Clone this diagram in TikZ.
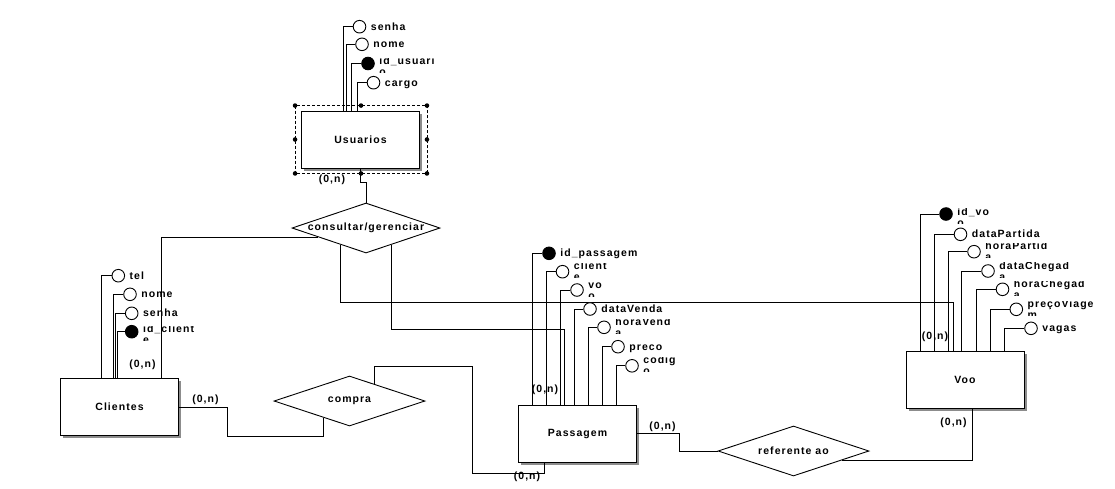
\documentclass[tikz,border=0pt]{standalone}
\usepackage{fontspec}
\setmainfont{Liberation Sans}[LetterSpace=10]
\usetikzlibrary{shapes.geometric,calc,shadows}

\newcommand\erfont{\fontsize{10.5}{12}\selectfont\bfseries}

\tikzset{
  lbl/.style={font=\erfont, inner sep=0pt},
  entity/.style={draw, fill=white, font=\erfont, minimum width=118pt, minimum height=57pt, inner sep=0pt,
    drop shadow={shadow xshift=2.5pt, shadow yshift=-2.5pt, opacity=1, fill=black!45}},
  relation/.style={draw, diamond, fill=white, inner sep=0pt},
  attr/.style={draw, circle, fill=white, minimum size=12.6pt, inner sep=0pt},
  keyattr/.style={draw, circle, fill=black, minimum size=12.6pt, inner sep=0pt},
  handle/.style={circle, fill=black, minimum size=4.6pt, inner sep=0pt},
  selbox/.style={line width=0.7pt, dash pattern=on 3pt off 2pt},
}

% attribute circle with its elbow line down to the entity top
\newcommand\attrib[5]{%
  \node[#2] (#1) at (#3) {};
  \draw (#1.west) -| (#4.north -| #5,0);}
% one-line attribute name
\newcommand\slabel[3]{%
  \node[lbl, anchor=base west] (#2) at ($(#1.east)+(4.2,3.5)$) {#3};}
% attribute name wrapped on two lines, shown through a narrow band
\newcommand\wlabel[5]{%
  \begin{scope}
    \coordinate (#2-b) at ($(#1.east)+(4.2,#3)$);
    \clip ($(#2-b)+(-1,-6.2)$) rectangle ($(#2-b)+(80,8)$);
    \node[lbl, anchor=base west] (#2) at (#2-b) {#4};
    \node[lbl, anchor=base west] (#2-2) at ($(#2-b)+(0,11)$) {#5};
  \end{scope}}

\begin{document}
\begin{tikzpicture}[x=1pt, y=-1pt, line width=0.9pt]
\fill[white] (0,0) rectangle (1115,488);
\useasboundingbox (0,0) rectangle (1115,488);

% entities
\node[entity] (usu) at (360.5,139.5) {Usuarios};
\node[entity] (cli) at (119.5,407) {Clientes};
\node[entity] (pas) at (577.5,433.5) {Passagem};
\node[entity] (voo) at (965,380) {Voo};

% relationships
\node[relation, minimum width=148pt, minimum height=50pt] (cg) at (366,228) {};
\node[lbl] (cg-t) at (cg) {consultar/gerenciar};
\node[relation, minimum width=151pt, minimum height=50pt] (cp) at (349.5,401) {};
\node[lbl] (cp-t) at (cp) {compra};
\node[relation, minimum width=151pt, minimum height=50pt] (ref) at (793.5,451) {};
\node[lbl] (ref-t) at (ref) {referente ao};

% selection frame around Usuarios
\coordinate (sel-nw) at ($(usu.north west)+(-6,-5)$);
\coordinate (sel-se) at ($(usu.south east)+(7,5)$);
\coordinate (sel-c) at ($(sel-nw)!0.5!(sel-se)$);
\draw[selbox] (sel-nw) rectangle (sel-se);
\foreach \p [count=\i] in {sel-nw, sel-nw -| sel-c, sel-nw -| sel-se, sel-c -| sel-nw,
    sel-c -| sel-se, sel-se -| sel-nw, sel-se -| sel-c, sel-se}
  \node[handle] (h\i) at (\p) {};

% relationship lines
\draw (usu.south) |- (366,182) -- (cg.north);
\draw (cli.north -| 161,0) |- ($(cg.west)!0.36!(cg.south)$);
\draw ($(cg.west)!0.662!(cg.south)$) |- (953,302) -- (voo.north -| 953,0);
\draw ($(cg.south)!0.338!(cg.east)$) |- (564,329) -- (pas.north -| 564,0);
\draw (cli.east) -| (227,436) -| ($(cp.west)!0.662!(cp.south)$);
\draw ($(cp.north)!0.324!(cp.east)$) |- (472,366) -- (472,473) -| (pas.south -| 544,0);
\draw (pas.east) -| (679,451) -- (ref.west);
\draw ($(ref.south)!0.64!(ref.east)$) -| (voo.south -| 972,0);

% cardinalities
\node[lbl] (k1) at (332,180) {(0,n)};
\node[lbl] (k2) at (142.5,365) {(0,n)};
\node[lbl] (k3) at (205.5,400) {(0,n)};
\node[lbl] (k4) at (545,390) {(0,n)};
\node[lbl] (k5) at (527,477) {(0,n)};
\node[lbl] (k6) at (662.5,427) {(0,n)};
\node[lbl] (k7) at (935,337) {(0,n)};
\node[lbl] (k8) at (953.5,423) {(0,n)};

% Usuarios attributes
\attrib{u1}{attr}{359.5,26.7}{usu}{343.3}
\attrib{u2}{attr}{362,44.3}{usu}{346.7}
\attrib{u3}{keyattr}{368,63.5}{usu}{351.7}
\attrib{u4}{attr}{373.5,82.7}{usu}{357.7}
\slabel{u1}{u1-l}{senha}
\slabel{u2}{u2-l}{nome}
\wlabel{u3}{u3-l}{1}{id\_usuari}{o}
\slabel{u4}{u4-l}{cargo}

% Clientes attributes
\attrib{c1}{attr}{118.3,275.7}{cli}{101.7}
\attrib{c2}{attr}{130,294.3}{cli}{113}
\attrib{c3}{attr}{131.7,313.3}{cli}{115.5}
\attrib{c4}{keyattr}{131.7,331.7}{cli}{117.5}
\slabel{c1}{c1-l}{tel}
\slabel{c2}{c2-l}{nome}
\slabel{c3}{c3-l}{senha}
\wlabel{c4}{c4-l}{1}{id\_client}{e}

% Passagem attributes
\attrib{p1}{keyattr}{549,253.3}{pas}{532.3}
\attrib{p2}{attr}{562.5,271.7}{pas}{546}
\attrib{p3}{attr}{577,290}{pas}{560.7}
\attrib{p4}{attr}{590,309}{pas}{574.3}
\attrib{p5}{attr}{604,327.3}{pas}{588.3}
\attrib{p6}{attr}{618,346.7}{pas}{602.7}
\attrib{p7}{attr}{632,365.8}{pas}{616.7}
\slabel{p1}{p1-l}{id\_passagem}
\wlabel{p2}{p2-l}{-2}{client}{e}
\wlabel{p3}{p3-l}{-2}{vo}{o}
\slabel{p4}{p4-l}{dataVenda}
\wlabel{p5}{p5-l}{-2}{horaVend}{a}
\slabel{p6}{p6-l}{preco}
\wlabel{p7}{p7-l}{-2}{codig}{o}

% Voo attributes
\attrib{v1}{keyattr}{946,214}{voo}{920.7}
\attrib{v2}{attr}{960.5,234.3}{voo}{934}
\attrib{v3}{attr}{974,251.7}{voo}{948.3}
\attrib{v4}{attr}{988,271}{voo}{961.7}
\attrib{v5}{attr}{1002.5,289.3}{voo}{976}
\attrib{v6}{attr}{1016.3,309.3}{voo}{990}
\attrib{v7}{attr}{1031,328.3}{voo}{1004.3}
\wlabel{v1}{v1-l}{1}{id\_vo}{o}
\slabel{v2}{v2-l}{dataPartida}
\wlabel{v3}{v3-l}{-2}{horaPartid}{a}
\wlabel{v4}{v4-l}{-2}{dataChegad}{a}
\wlabel{v5}{v5-l}{-2}{horaChegad}{a}
\wlabel{v6}{v6-l}{-2}{preçoViage}{m}
\slabel{v7}{v7-l}{vagas}
\end{tikzpicture}
\end{document}
